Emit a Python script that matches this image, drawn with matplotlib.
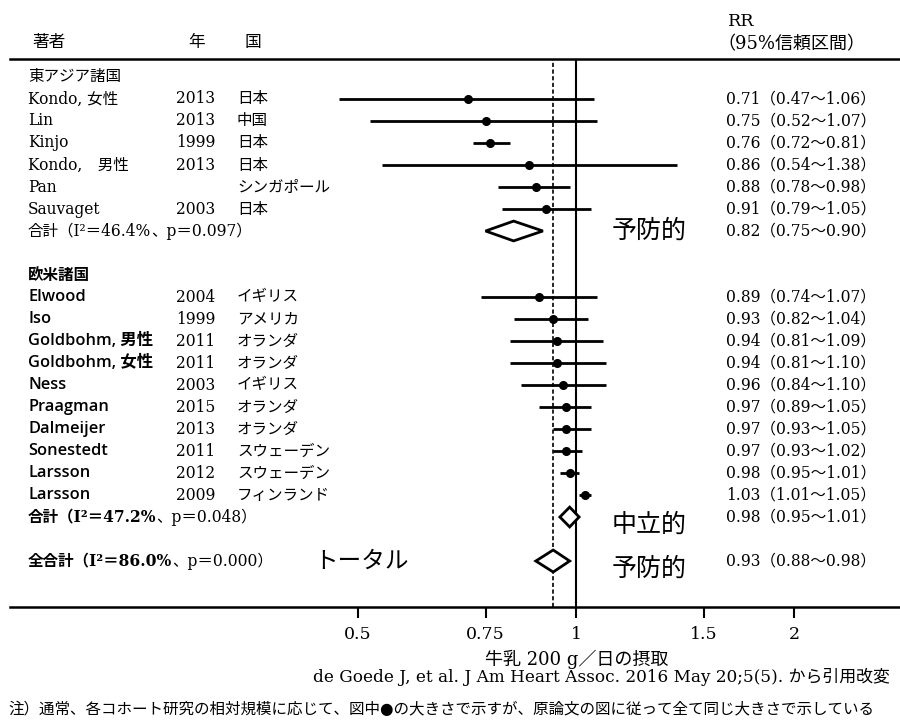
import matplotlib
matplotlib.use('Agg')
import matplotlib.pyplot as plt
from matplotlib.patches import Polygon

# ---------------- data ----------------
authors1 = ['Kondo, 女性', 'Lin', 'Kinjo', 'Kondo,\u3000男性', 'Pan', 'Sauvaget']
years1 = ['2013', '2013', '1999', '2013', '', '2003']
countries1 = ['日本', '中国', '日本', '日本', 'シンガポール', '日本']
rr1 = [0.71, 0.75, 0.76, 0.86, 0.88, 0.91]
lo1 = [0.47, 0.52, 0.72, 0.54, 0.78, 0.79]
hi1 = [1.06, 1.07, 0.81, 1.38, 0.98, 1.05]

authors2 = ['Elwood', 'Iso', 'Goldbohm, 男性', 'Goldbohm, 女性', 'Ness', 'Praagman',
            'Dalmeijer', 'Sonestedt', 'Larsson', 'Larsson']
years2 = ['2004', '1999', '2011', '2011', '2003', '2015', '2013', '2011', '2012', '2009']
countries2 = ['イギリス', 'アメリカ', 'オランダ', 'オランダ', 'イギリス', 'オランダ',
              'オランダ', 'スウェーデン', 'スウェーデン', 'フィンランド']
rr2 = [0.89, 0.93, 0.94, 0.94, 0.96, 0.97, 0.97, 0.97, 0.98, 1.03]
lo2 = [0.74, 0.82, 0.81, 0.81, 0.84, 0.89, 0.93, 0.93, 0.95, 1.01]
hi2 = [1.07, 1.04, 1.09, 1.10, 1.10, 1.05, 1.05, 1.02, 1.01, 1.05]

group_names = ['東アジア諸国', '欧米諸国']
pooled_prefix = ['合計', '合計', '全合計']
pooled_i2 = ['46.4', '47.2', '86.0']
pooled_p = ['0.097', '0.048', '0.000']
pooled_rr = [0.82, 0.98, 0.93]
pooled_lo = [0.75, 0.95, 0.88]
pooled_hi = [0.90, 1.01, 0.98]
pooled_notes = ['予防的', '中立的', '予防的']

overall_rr = 0.93
xticks = [0.5, 0.75, 1, 1.5, 2]
xticklabels = ['0.5', '0.75', '1', '1.5', '2']

# ---------------- layout ----------------
SERIF = ['DejaVu Serif', 'Noto Sans CJK JP']
SANS = ['Open Sans', 'Noto Sans CJK JP']
plt.rcParams['font.family'] = SERIF

W, H = 900, 720
fig = plt.figure(figsize=(9, 7.2), dpi=100)
ax = fig.add_axes([10 / W, 1 - 607 / H, 890 / W, (607 - 59) / H])
ax.set_xscale('log')
ax.set_xlim(0.1653, 2.802)
ax.set_ylim(24.09, -0.818)

for s in ['left', 'right']:
    ax.spines[s].set_visible(False)
ax.spines['top'].set_linewidth(1.8)
ax.spines['bottom'].set_linewidth(1.8)
ax.set_yticks([])
ax.set_xticks(xticks)
ax.set_xticklabels(xticklabels, fontsize=12.5, family=SERIF)
ax.xaxis.set_minor_locator(matplotlib.ticker.NullLocator())
ax.tick_params(axis='x', direction='out', length=8, width=1.5, pad=6)

tr = ax.get_yaxis_transform()


def axx(px):
    return (px - 10) / 890.0


FS = 11.2

# reference lines
ax.axvline(1, color='black', lw=1.5, zorder=1)
ax.axvline(overall_rr, color='black', lw=1.2, ls=(0, (2.5, 1.5)), zorder=1)

rows1 = list(range(1, 7))
rows2 = list(range(10, 20))
pooled_rows = [7, 20, 22]
group_rows = [0, 9]

# studies
for rows, rr, lo, hi in [(rows1, rr1, lo1, hi1), (rows2, rr2, lo2, hi2)]:
    ax.hlines(rows, lo, hi, color='black', lw=2, zorder=3)
    ax.plot(rr, rows, 'o', color='black', ms=5.5, zorder=4)

# diamonds
for r, m, l, h in zip(pooled_rows, pooled_rr, pooled_lo, pooled_hi):
    hh = 0.45 if r != 22 else 0.5
    poly = Polygon([(l, r), (m, r - hh), (h, r), (m, r + hh)], closed=True,
                   facecolor='white', edgecolor='black', lw=2, zorder=5)
    ax.add_patch(poly)

# headers
fig.text(32 / W, 1 - 43 / H, '著者', fontsize=12, family=SERIF, va='center', ha='left')
fig.text(188 / W, 1 - 43 / H, '年', fontsize=12, family=SERIF, va='center', ha='left')
fig.text(245 / W, 1 - 43 / H, '国', fontsize=12, family=SERIF, va='center', ha='left')
fig.text(728 / W, 1 - 21 / H, 'RR', fontsize=12.5, family=SERIF, va='center', ha='left')
fig.text(717 / W, 1 - 44 / H, '（95%信頼区間）', fontsize=13, family=SERIF, va='center', ha='left')

# group labels
ax.text(axx(28), group_rows[0], group_names[0], transform=tr, fontsize=FS, family=SERIF, va='center')
ax.text(axx(28), group_rows[1], group_names[1], transform=tr, fontsize=FS, family=SERIF,
        weight='bold', va='center')


def rr_text(m, l, h):
    return f'{m:.2f}（{l:.2f}〜{h:.2f}）'


for rows, names, yrs, ctys, rr, lo, hi, fam in [
        (rows1, authors1, years1, countries1, rr1, lo1, hi1, SERIF),
        (rows2, authors2, years2, countries2, rr2, lo2, hi2, SANS)]:
    for r, n, y, c, m, l, h in zip(rows, names, yrs, ctys, rr, lo, hi):
        ax.text(axx(28), r, n, transform=tr, fontsize=FS if fam is SERIF else 11.8,
                family=fam, va='center', weight='normal' if fam is SERIF else 'semibold')
        ax.text(axx(176), r, y, transform=tr, fontsize=FS, family=SERIF, va='center')
        ax.text(axx(237), r, c, transform=tr, fontsize=FS, family=SERIF, va='center')
        ax.text(axx(726), r, rr_text(m, l, h), transform=tr, fontsize=FS, family=SERIF, va='center')

for i, (r, pre, i2, p, m, l, h, note) in enumerate(zip(pooled_rows, pooled_prefix, pooled_i2,
                                                       pooled_p, pooled_rr, pooled_lo,
                                                       pooled_hi, pooled_notes)):
    wb = 'normal' if i == 0 else 'bold'
    t = ax.text(axx(28), r, f'{pre}（I²＝{i2}%', transform=tr, fontsize=FS, family=SERIF,
                va='center', weight=wb)
    ax.annotate(f'、p＝{p}）', xy=(1, 0.5), xycoords=t, fontsize=FS, family=SERIF,
                va='center', ha='left')
    ax.text(axx(726), r, rr_text(m, l, h), transform=tr, fontsize=FS, family=SERIF, va='center')
    ax.text(axx(612), r + 0.35 if i > 0 else r, note, transform=tr, fontsize=18,
            family=SERIF, va='center')

ax.text(axx(314), pooled_rows[2], 'トータル', transform=tr, fontsize=17, family=SERIF, va='center')

# footer
fig.text(577 / W, 1 - 659 / H, '牛乳 200 g／日の摂取', fontsize=13, family=SERIF,
         ha='center', va='center')
fig.text(313 / W, 1 - 677 / H,
         'de Goede J, et al. J Am Heart Assoc. 2016 May 20;5(5). から引用改変',
         fontsize=12.2, family=SERIF, ha='left', va='center')
fig.text(8 / W, 1 - 710 / H,
         '注）通常、各コホート研究の相対規模に応じて、図中●の大きさで示すが、原論文の図に従って全て同じ大きさで示している',
         fontsize=11.2, family=SERIF, ha='left', va='center')

fig.savefig('out.png', dpi=100)
